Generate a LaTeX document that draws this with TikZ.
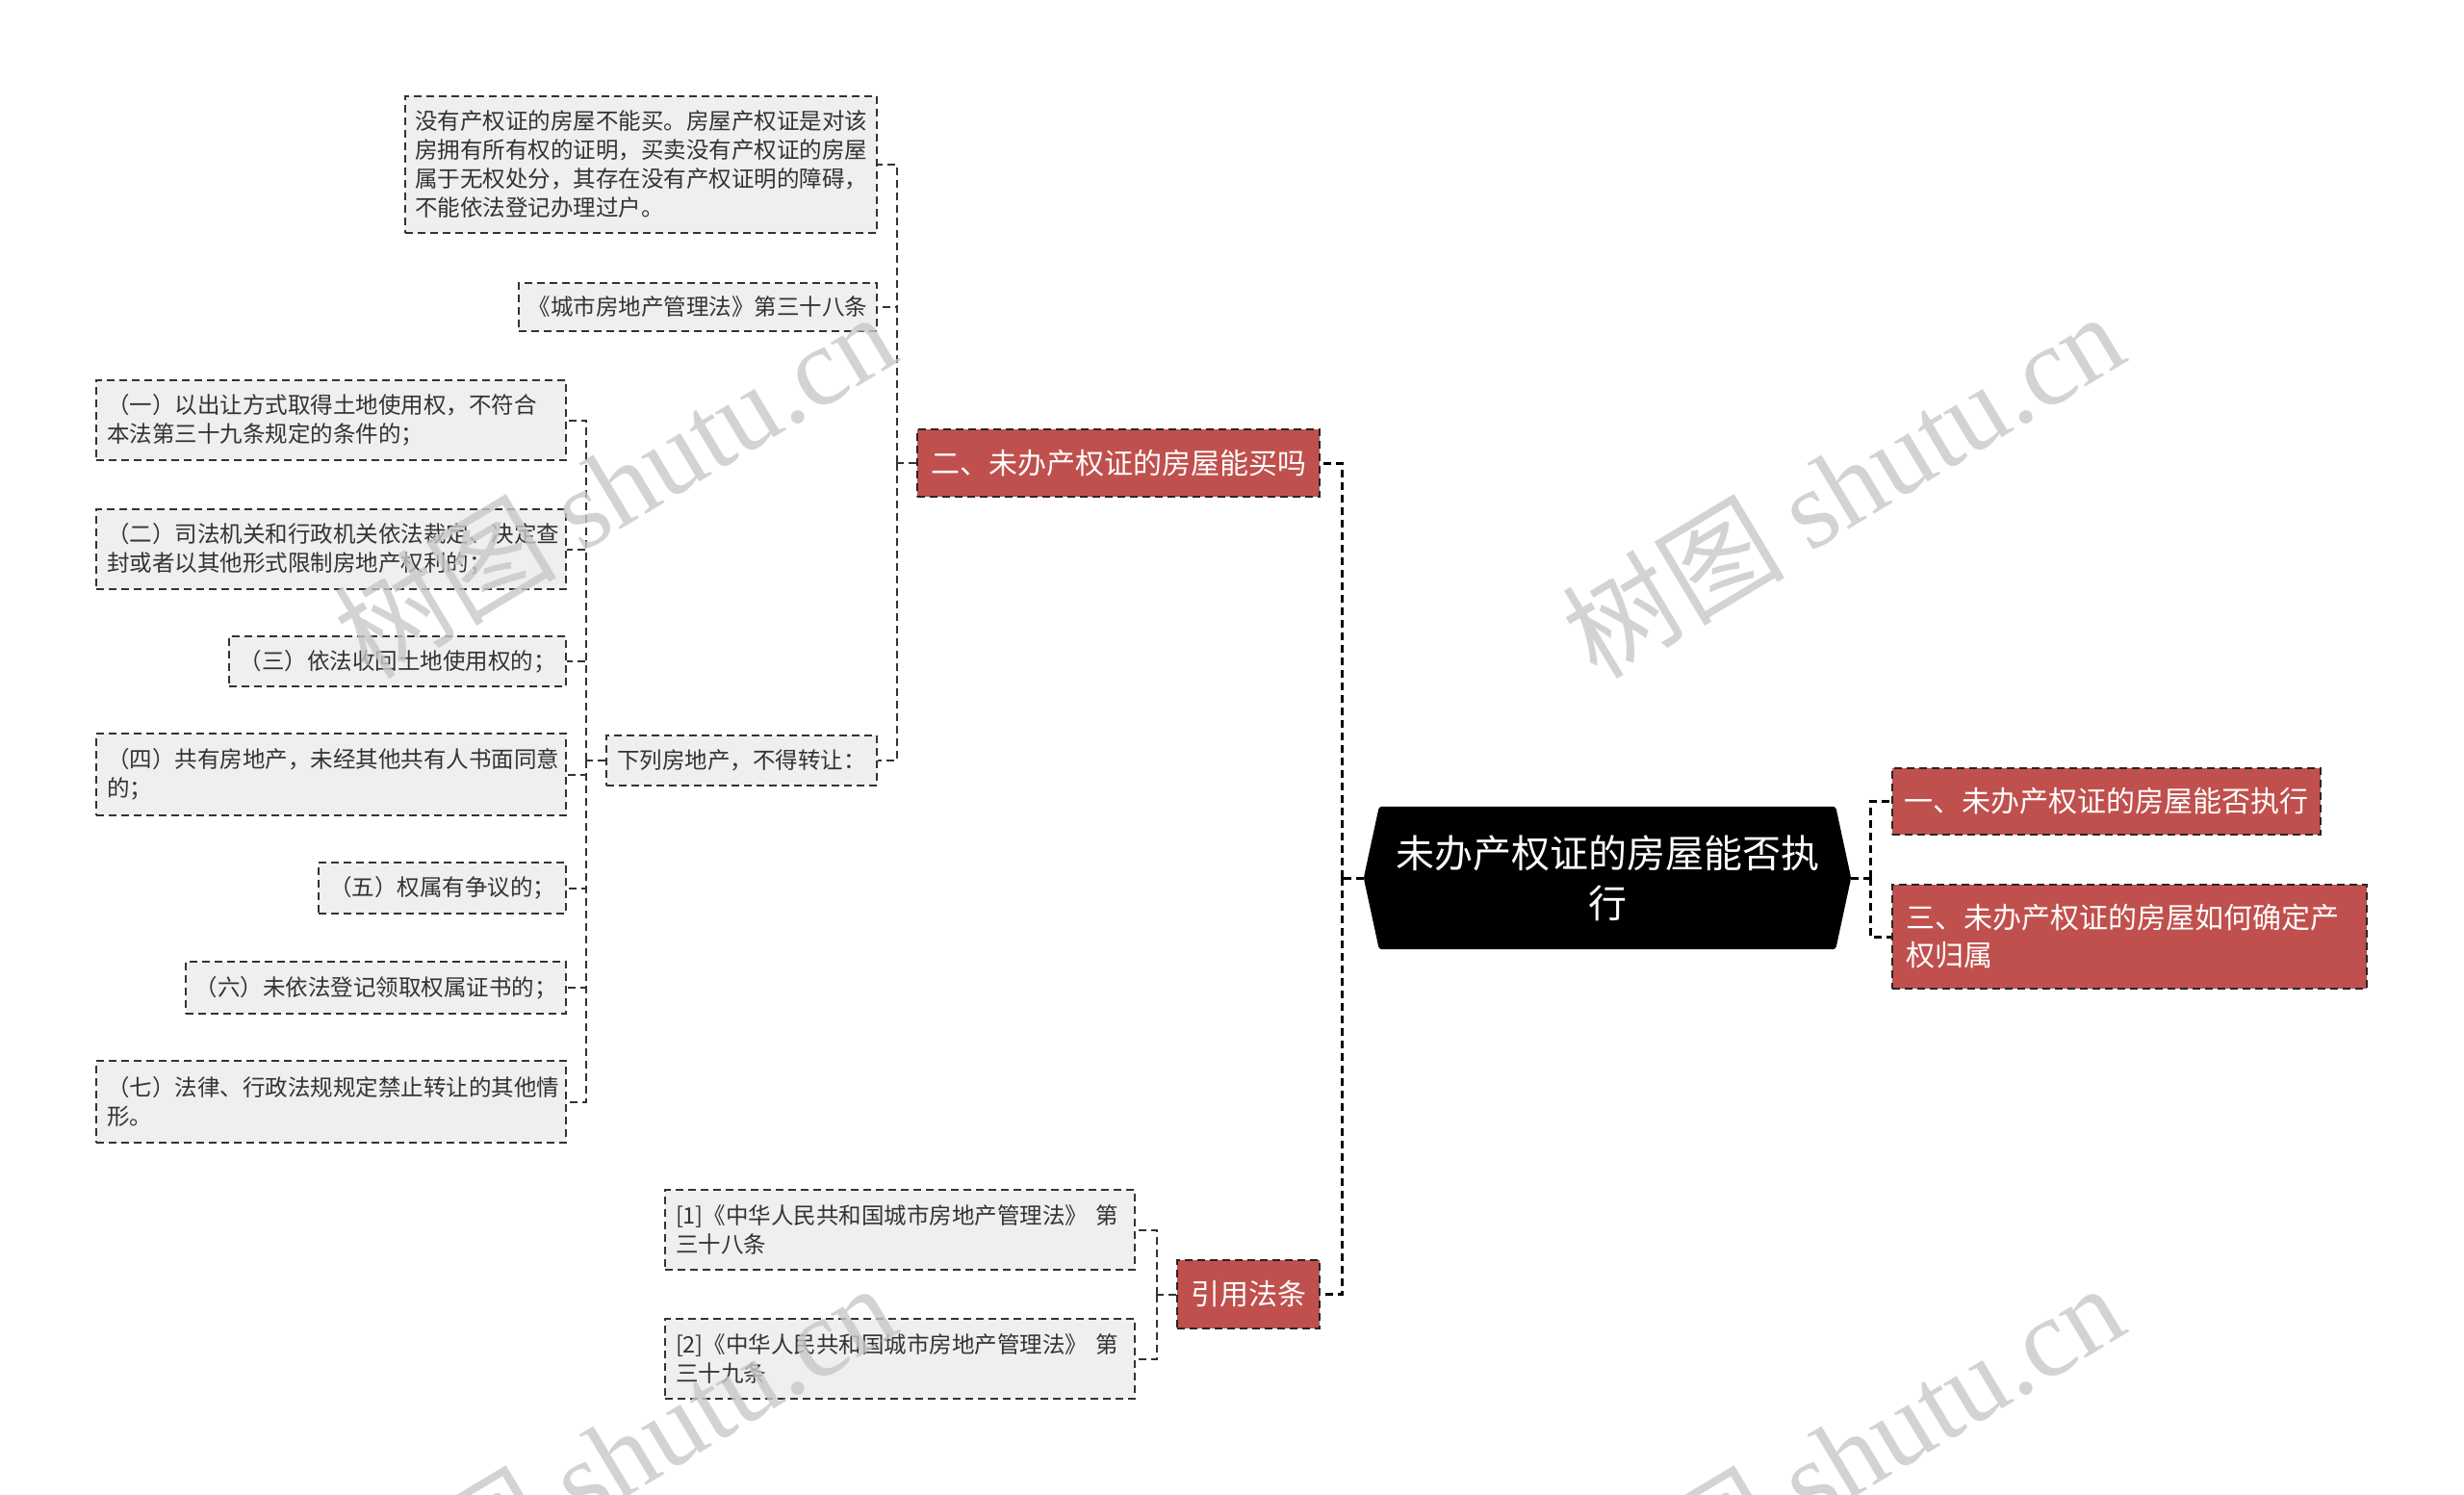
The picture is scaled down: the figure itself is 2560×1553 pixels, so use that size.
\documentclass[tikz,border=0pt]{standalone}
\usepackage{fontspec}
\setmainfont{Noto Sans CJK SC}
\newfontfamily\wmserif{Liberation Serif}
\usetikzlibrary{backgrounds}
\definecolor{redbox}{HTML}{C0504D}
\definecolor{graybox}{HTML}{EFEFEF}
\definecolor{graytext}{HTML}{333333}
\definecolor{wmgray}{HTML}{C8C8C8}
\tikzset{
  dashpat/.style={dash pattern=on 8pt off 5pt},
  gbox/.style={draw=graytext, line width=2pt, dashpat, fill=graybox, text=graytext,
    inner xsep=0pt, inner ysep=0pt, font=\fontsize{23.5pt}{30pt}\selectfont},
  rbox/.style={draw=black!85, line width=2pt, dashpat, fill=redbox, text=white,
    inner xsep=0pt, inner ysep=0pt, font=\fontsize{30pt}{39pt}\selectfont},
  rootbox/.style={text=white, inner sep=0pt, align=center,
    font=\fontsize{40pt}{52pt}\selectfont},
  mainline/.style={draw=black, line width=3pt, dashpat},
  subline/.style={draw=graytext, line width=2pt, dashpat},
  wm/.style={text=wmgray, opacity=0.8, font=\fontsize{116pt}{116pt}\selectfont,
    rotate=31, inner sep=0pt}
}
\begin{document}
\begin{tikzpicture}[x=1pt,y=-1pt]
\useasboundingbox (0,0) rectangle (2560,1553);
\clip (0,0) rectangle (2560,1553);

% nodes
\node[rootbox, minimum width=506pt, minimum height=148pt] (root) at (1670,912) {未办产权证的房屋能否执\\行};

\node[rbox, minimum width=418pt, minimum height=70pt] (n2) at (1162,481) {二、未办产权证的房屋能买吗};
\node[rbox, minimum width=445pt, minimum height=69pt] (r1) at (2188.5,832.5) {一、未办产权证的房屋能否执行};
\node[rbox, minimum width=493pt, minimum height=108pt, text width=465pt, align=left] (r3) at (2212.5,973) {三、未办产权证的房屋如何确定产\\权归属};
\node[rbox, minimum width=148pt, minimum height=71pt] (rq) at (1297,1344.5) {引用法条};

\node[gbox, minimum width=490pt, minimum height=142pt, text width=470pt, align=left] (t1) at (666,171) {没有产权证的房屋不能买。房屋产权证是对该\\房拥有所有权的证明，买卖没有产权证的房屋\\属于无权处分，其存在没有产权证明的障碍，\\不能依法登记办理过户。};
\node[gbox, minimum width=372pt, minimum height=50pt] (t2) at (725,319) {《城市房地产管理法》第三十八条};
\node[gbox, minimum width=281pt, minimum height=52pt] (t3) at (770.5,790) {下列房地产，不得转让：};

\node[gbox, minimum width=488pt, minimum height=83pt, text width=466pt, align=left] (c1) at (344,436.5) {（一）以出让方式取得土地使用权，不符合\\本法第三十九条规定的条件的；};
\node[gbox, minimum width=488pt, minimum height=83pt, text width=466pt, align=left] (c2) at (344,570.5) {（二）司法机关和行政机关依法裁定、决定查\\封或者以其他形式限制房地产权利的；};
\node[gbox, minimum width=350pt, minimum height=52pt] (c3) at (413,687) {（三）依法收回土地使用权的；};
\node[gbox, minimum width=488pt, minimum height=85pt, text width=466pt, align=left] (c4) at (344,804.5) {（四）共有房地产，未经其他共有人书面同意\\的；};
\node[gbox, minimum width=257pt, minimum height=53pt] (c5) at (459.5,922.5) {（五）权属有争议的；};
\node[gbox, minimum width=395pt, minimum height=54pt] (c6) at (390.5,1026) {（六）未依法登记领取权属证书的；};
\node[gbox, minimum width=488pt, minimum height=85pt, text width=466pt, align=left] (c7) at (344,1144.5) {（七）法律、行政法规规定禁止转让的其他情\\形。};

\node[gbox, minimum width=488pt, minimum height=83pt, text width=466pt, align=left] (f1) at (935,1277.5) {[1]《中华人民共和国城市房地产管理法》 第\\三十八条};
\node[gbox, minimum width=488pt, minimum height=83pt, text width=466pt, align=left] (f2) at (935,1411.5) {[2]《中华人民共和国城市房地产管理法》 第\\三十九条};

% background: white page and root hexagon
\begin{pgfonlayer}{background}
\fill[white] (0,0) rectangle (2560,1553);
\fill[black, rounded corners=3pt] ([xshift=16pt]root.north west) -- ([xshift=-16pt]root.north east) -- (root.east) -- ([xshift=-16pt]root.south east) -- ([xshift=16pt]root.south west) -- (root.west) -- cycle;
\end{pgfonlayer}

% bracket coordinates
\coordinate (tL) at (1394,912);
\coordinate (tR) at (1943,912);
\coordinate (b2) at (932,481);
\coordinate (b3) at (609,790);
\coordinate (bq) at (1202,1344.5);

% connectors
\draw[mainline] (root.west) -- (tL);
\draw[mainline] (tL) |- (n2.east);
\draw[mainline] (tL) |- (rq.east);
\draw[mainline] (root.east) -- (tR);
\draw[mainline] (tR) |- (r1.west);
\draw[mainline] (tR) |- (r3.west);

\draw[subline] (n2.west) -- (b2);
\draw[subline] (b2) |- (t1.east);
\draw[subline] (b2) |- (t2.east);
\draw[subline] (b2) |- (t3.east);

\draw[subline] (t3.west) -- (b3);
\foreach \c in {c1,c2,c3,c4,c5,c6,c7} {\draw[subline] (b3) |- (\c.east);}

\draw[subline] (rq.west) -- (bq);
\draw[subline] (bq) |- (f1.east);
\draw[subline] (bq) |- (f2.east);

% watermarks
\node[wm] (wm1) at (638,503) {树图 {\wmserif shutu.cn}};
\node[wm] (wm2) at (1914,503) {树图 {\wmserif shutu.cn}};
\node[wm] (wm3) at (638,1512) {树图 {\wmserif shutu.cn}};
\node[wm] (wm4) at (1914,1512) {树图 {\wmserif shutu.cn}};
\end{tikzpicture}
\end{document}
